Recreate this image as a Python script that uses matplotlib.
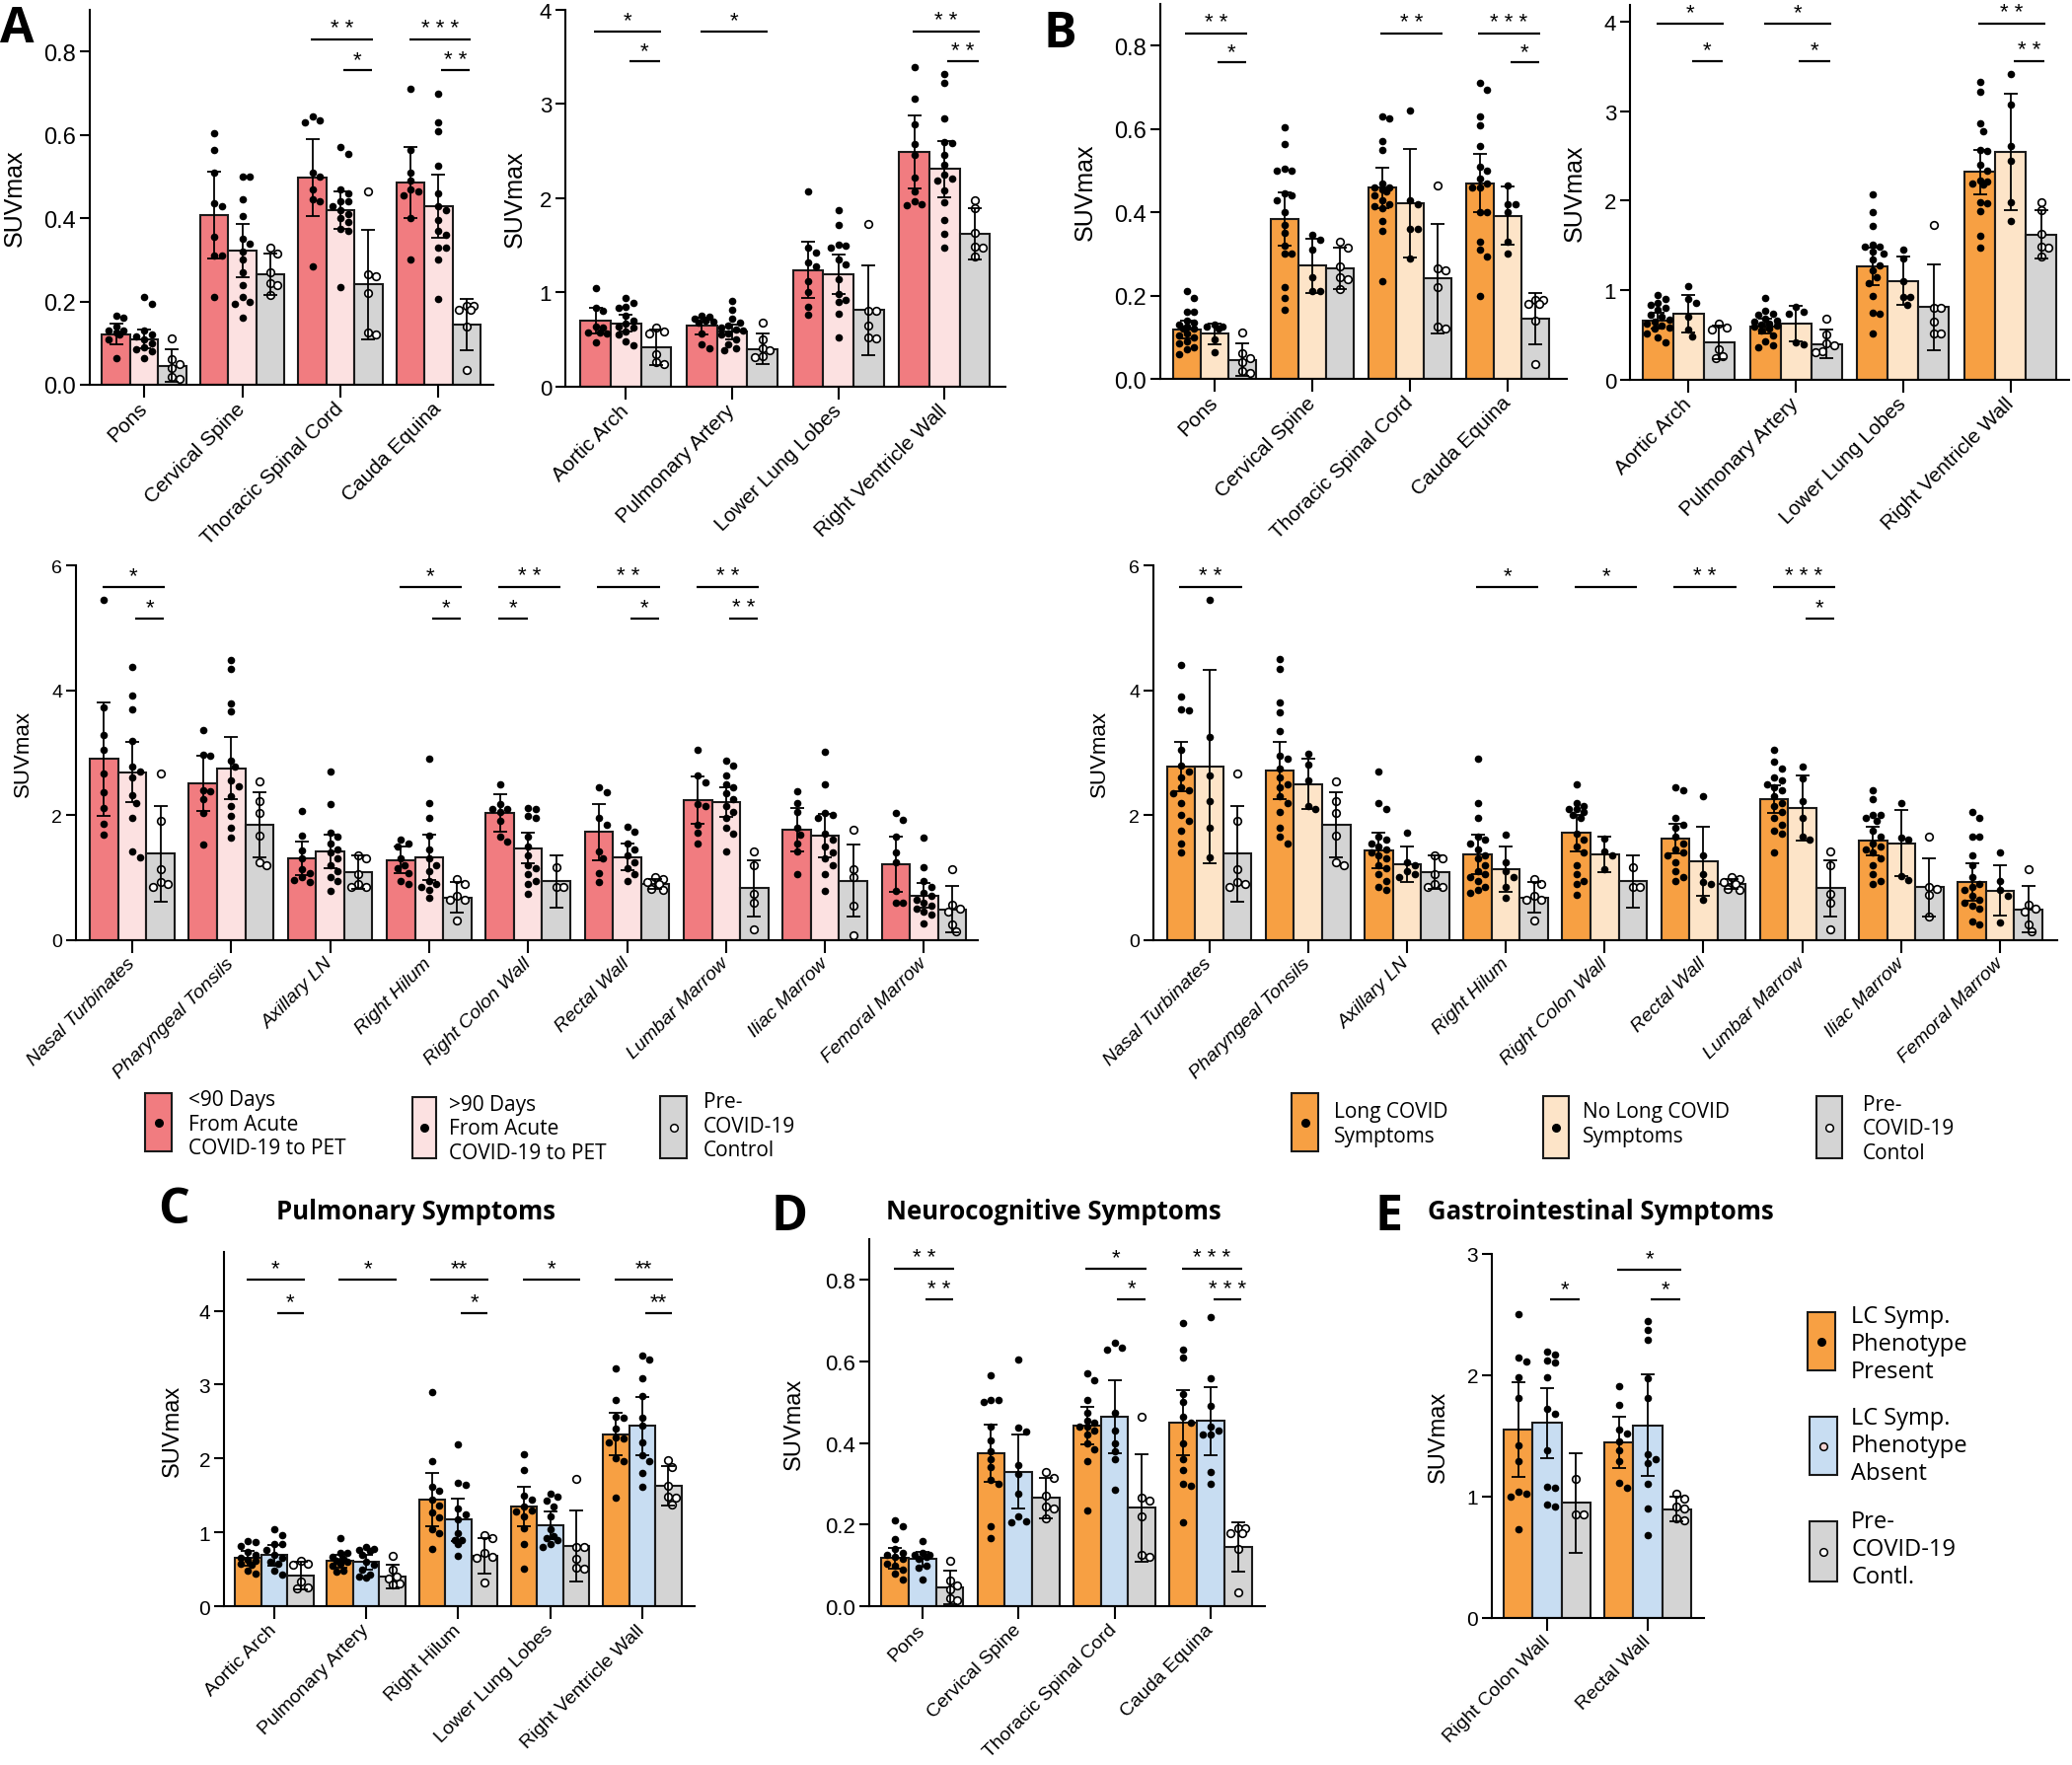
import numpy as np
import matplotlib
matplotlib.use("Agg")
import matplotlib.pyplot as plt
from matplotlib.patches import Rectangle

plt.rcParams['font.family'] = ['Liberation Sans', 'DejaVu Sans']

# ---------------- data ----------------
SPINE_CATS = ["Pons", "Cervical Spine", "Thoracic Spinal Cord", "Cauda Equina"]
VASC_CATS = ["Aortic Arch", "Pulmonary Artery", "Lower Lung Lobes", "Right Ventricle Wall"]
BODY_CATS = ["Nasal Turbinates", "Pharyngeal Tonsils", "Axillary LN", "Right Hilum",
             "Right Colon Wall", "Rectal Wall", "Lumbar Marrow", "Iliac Marrow", "Femoral Marrow"]
PULM_CATS = ["Aortic Arch", "Pulmonary Artery", "Right Hilum", "Lower Lung Lobes", "Right Ventricle Wall"]
GI_CATS = ["Right Colon Wall", "Rectal Wall"]

# panel A, spine (rows: <90 days, >90 days, control)
A1_MEAN = [[0.122, 0.408, 0.498, 0.486], [0.110, 0.322, 0.419, 0.429], [0.046, 0.265, 0.241, 0.145]]
A1_SD = [[0.024, 0.104, 0.093, 0.085], [0.023, 0.064, 0.045, 0.075], [0.040, 0.050, 0.132, 0.061]]
A1_PTS = [
    [[0.165, 0.16, 0.14, 0.13, 0.13, 0.125, 0.12, 0.11, 0.065],
     [0.21, 0.195, 0.13, 0.12, 0.115, 0.11, 0.10, 0.09, 0.085, 0.08, 0.065],
     [0.112, 0.062, 0.05, 0.04, 0.02, 0.015]],
    [[0.605, 0.565, 0.51, 0.435, 0.43, 0.355, 0.31, 0.31, 0.21],
     [0.50, 0.50, 0.445, 0.405, 0.35, 0.34, 0.32, 0.30, 0.27, 0.24, 0.21, 0.20, 0.195, 0.16],
     [0.33, 0.315, 0.27, 0.245, 0.24, 0.215]],
    [[0.645, 0.635, 0.63, 0.51, 0.50, 0.47, 0.445, 0.44, 0.285],
     [0.57, 0.555, 0.47, 0.46, 0.44, 0.44, 0.43, 0.42, 0.41, 0.40, 0.39, 0.375, 0.37, 0.235],
     [0.465, 0.265, 0.26, 0.22, 0.125, 0.12]],
    [[0.71, 0.565, 0.51, 0.49, 0.47, 0.465, 0.455, 0.40, 0.30],
     [0.70, 0.63, 0.61, 0.525, 0.46, 0.43, 0.42, 0.395, 0.37, 0.36, 0.33, 0.33, 0.30, 0.205],
     [0.19, 0.19, 0.18, 0.18, 0.14, 0.035]],
]
A1_SIG = [(2, 'long', '* *'), (2, 's23', '*'), (3, 'long', '* * *'), (3, 's23', '* *')]

# panel A, vascular
A2_MEAN = [[0.697, 0.643, 1.235, 2.49], [0.668, 0.578, 1.19, 2.31], [0.415, 0.397, 0.81, 1.62]]
A2_SD = [[0.14, 0.09, 0.30, 0.39], [0.09, 0.08, 0.21, 0.30], [0.19, 0.16, 0.48, 0.27]]
A2_PTS = [
    [[1.04, 0.83, 0.80, 0.63, 0.62, 0.57, 0.56, 0.57, 0.47],
     [0.94, 0.89, 0.85, 0.83, 0.75, 0.70, 0.67, 0.64, 0.62, 0.58, 0.55, 0.48, 0.44],
     [0.62, 0.58, 0.56, 0.34, 0.26, 0.24]],
    [[0.75, 0.74, 0.72, 0.70, 0.69, 0.68, 0.56, 0.45, 0.40],
     [0.91, 0.81, 0.72, 0.68, 0.65, 0.62, 0.60, 0.59, 0.56, 0.55, 0.50, 0.45, 0.40, 0.38],
     [0.68, 0.50, 0.40, 0.38, 0.32, 0.31]],
    [[2.07, 1.47, 1.42, 1.32, 1.27, 1.12, 1.00, 0.85, 0.76],
     [1.87, 1.71, 1.51, 1.50, 1.47, 1.35, 1.30, 1.14, 0.98, 0.92, 0.90, 0.77, 0.52],
     [1.73, 0.80, 0.80, 0.65, 0.52, 0.51]],
    [[3.39, 3.06, 2.78, 2.57, 2.46, 2.22, 2.07, 1.97, 1.93, 1.92],
     [3.32, 3.22, 2.85, 2.60, 2.58, 2.46, 2.35, 2.25, 2.19, 2.21, 2.08, 1.96, 1.77, 1.62, 1.47],
     [1.98, 1.89, 1.63, 1.47, 1.48, 1.38]],
]
A2_SIG = [(0, 'long', '*'), (0, 's23', '*'), (1, 'long', '*'), (3, 'long', '* *'), (3, 's23', '* *')]

# panel B, spine (rows: long covid, no long covid, control)
B1_MEAN = [[0.119, 0.384, 0.459, 0.47], [0.108, 0.272, 0.421, 0.392], [0.046, 0.265, 0.241, 0.145]]
B1_SD = [[0.021, 0.063, 0.048, 0.07], [0.025, 0.065, 0.13, 0.07], [0.04, 0.05, 0.132, 0.061]]
B1_PTS = [
    [[0.21, 0.195, 0.16, 0.16, 0.14, 0.135, 0.13, 0.125, 0.12, 0.12, 0.11, 0.105, 0.10, 0.09, 0.085, 0.075, 0.07, 0.06],
     [0.13, 0.125, 0.125, 0.12, 0.095, 0.065],
     [0.112, 0.062, 0.05, 0.04, 0.02, 0.015]],
    [[0.605, 0.565, 0.505, 0.50, 0.50, 0.445, 0.44, 0.43, 0.40, 0.37, 0.35, 0.32, 0.30, 0.30, 0.22, 0.195, 0.165],
     [0.345, 0.335, 0.31, 0.245, 0.21, 0.21],
     [0.33, 0.315, 0.27, 0.245, 0.24, 0.215]],
    [[0.63, 0.625, 0.57, 0.55, 0.47, 0.46, 0.46, 0.455, 0.45, 0.44, 0.43, 0.42, 0.415, 0.41, 0.38, 0.355, 0.235],
     [0.645, 0.43, 0.42, 0.36, 0.36, 0.29],
     [0.465, 0.265, 0.26, 0.22, 0.125, 0.12]],
    [[0.71, 0.695, 0.63, 0.61, 0.56, 0.51, 0.50, 0.48, 0.47, 0.46, 0.46, 0.40, 0.40, 0.33, 0.31, 0.295, 0.20],
     [0.465, 0.42, 0.42, 0.40, 0.33, 0.30],
     [0.19, 0.19, 0.18, 0.18, 0.14, 0.035]],
]
B1_SIG = [(0, 'long', '* *'), (0, 's23', '*'), (2, 'long', '* *'), (3, 'long', '* * *'), (3, 's23', '*')]

# panel B, vascular
B2_MEAN = [[0.66, 0.596, 1.267, 2.32], [0.732, 0.626, 1.101, 2.54], [0.415, 0.397, 0.81, 1.62]]
B2_SD = [[0.09, 0.08, 0.21, 0.25], [0.21, 0.20, 0.27, 0.65], [0.19, 0.16, 0.48, 0.27]]
B2_PTS = [
    [[0.95, 0.90, 0.86, 0.83, 0.80, 0.78, 0.72, 0.70, 0.67, 0.65, 0.62, 0.60, 0.58, 0.57, 0.52, 0.47, 0.42],
     [1.04, 0.90, 0.86, 0.70, 0.56, 0.48],
     [0.62, 0.58, 0.56, 0.34, 0.26, 0.24]],
    [[0.91, 0.77, 0.74, 0.72, 0.68, 0.66, 0.65, 0.63, 0.61, 0.60, 0.59, 0.57, 0.55, 0.49, 0.43, 0.38, 0.36],
     [0.81, 0.76, 0.74, 0.42, 0.39],
     [0.68, 0.50, 0.40, 0.38, 0.32, 0.31]],
    [[2.07, 1.87, 1.72, 1.51, 1.49, 1.48, 1.43, 1.41, 1.34, 1.28, 1.22, 1.14, 1.08, 0.93, 0.75, 0.74, 0.52],
     [1.45, 1.35, 1.10, 0.92, 0.92, 0.84],
     [1.73, 0.80, 0.80, 0.65, 0.52, 0.51]],
    [[3.33, 3.22, 2.86, 2.78, 2.57, 2.56, 2.40, 2.33, 2.22, 2.21, 2.19, 2.18, 1.98, 1.97, 1.88, 1.61, 1.47],
     [3.41, 3.07, 2.61, 2.45, 1.98, 1.77],
     [1.98, 1.89, 1.63, 1.47, 1.48, 1.38]],
]
B2_SIG = [(0, 'long', '*'), (0, 's23', '*'), (1, 'long', '*'), (1, 's23', '*'), (3, 'long', '* *'), (3, 's23', '* *')]

# panel A, body regions
MA_MEAN = [[2.90, 2.51, 1.31, 1.28, 2.03, 1.73, 2.24, 1.76, 1.21],
           [2.69, 2.75, 1.42, 1.32, 1.47, 1.33, 2.21, 1.67, 0.71],
           [1.38, 1.85, 1.08, 0.68, 0.94, 0.89, 0.83, 0.95, 0.49]]
MA_SD = [[0.91, 0.44, 0.27, 0.21, 0.30, 0.45, 0.38, 0.35, 0.44],
         [0.48, 0.50, 0.27, 0.36, 0.25, 0.21, 0.24, 0.35, 0.20],
         [0.77, 0.52, 0.27, 0.25, 0.42, 0.08, 0.45, 0.58, 0.37]]
MA_PTS = [
    [[5.45, 3.72, 3.28, 3.05, 2.66, 2.36, 2.12, 1.86, 1.69],
     [4.38, 3.92, 3.70, 3.19, 2.77, 2.70, 2.60, 2.32, 2.20, 1.95, 1.41, 1.32],
     [2.66, 1.91, 1.13, 0.93, 0.90, 0.85]],
    [[3.36, 2.97, 2.95, 2.40, 2.38, 2.25, 2.03, 1.53],
     [4.49, 4.35, 3.79, 3.66, 2.88, 2.77, 2.55, 2.46, 2.30, 2.15, 1.98, 1.80, 1.64],
     [2.54, 2.23, 2.03, 1.67, 1.25, 1.20]],
    [[2.06, 1.67, 1.44, 1.30, 1.13, 1.07, 1.00, 0.96, 0.93],
     [2.70, 2.18, 1.71, 1.65, 1.55, 1.45, 1.40, 1.30, 1.20, 1.10, 1.00, 0.95, 0.79],
     [1.35, 1.30, 1.05, 0.90, 0.85, 0.85]],
    [[1.61, 1.55, 1.50, 1.30, 1.19, 1.15, 1.07, 0.95, 0.90],
     [2.90, 2.19, 1.95, 1.67, 1.45, 1.30, 1.20, 1.10, 0.95, 0.90, 0.85, 0.80, 0.67],
     [0.97, 0.90, 0.70, 0.65, 0.65, 0.31]],
    [[2.50, 2.18, 2.10, 2.09, 2.05, 1.90, 1.65, 1.58],
     [2.12, 2.10, 1.98, 1.95, 1.65, 1.50, 1.35, 1.20, 1.15, 1.05, 0.95, 0.90, 0.73],
     [1.16, 0.85, 0.85]],
    [[2.45, 2.37, 1.95, 1.85, 1.42, 1.30, 1.07, 0.93],
     [1.82, 1.74, 1.55, 1.45, 1.35, 1.25, 1.15, 1.05, 0.95],
     [1.00, 0.98, 0.92, 0.90, 0.82, 0.80]],
    [[3.05, 2.63, 2.53, 2.18, 2.15, 1.85, 1.71, 1.55],
     [2.88, 2.79, 2.63, 2.50, 2.45, 2.35, 2.25, 2.15, 2.05, 1.95, 1.80, 1.70, 1.41],
     [1.41, 1.20, 0.73, 0.60, 0.17]],
    [[2.38, 2.20, 2.05, 1.80, 1.69, 1.55, 1.42, 1.06],
     [3.02, 2.50, 2.03, 2.00, 1.95, 1.70, 1.60, 1.50, 1.40, 1.30, 1.20, 1.05, 0.79],
     [1.76, 1.13, 1.00, 0.55, 0.08]],
    [[2.03, 1.93, 1.65, 1.40, 1.25, 0.79, 0.60, 0.59],
     [1.64, 1.16, 0.95, 0.85, 0.75, 0.70, 0.65, 0.60, 0.55, 0.50, 0.45, 0.40, 0.27],
     [1.13, 0.56, 0.50, 0.45, 0.25, 0.14]],
]
MA_SIG = [(0, 'long', '*'), (0, 's23', '*'), (3, 'long', '*'), (3, 's23', '*'),
          (4, 'long', '* *'), (4, 's12', '*'), (5, 'long', '* *'), (5, 's23', '*'),
          (6, 'long', '* *'), (6, 's23', '* *')]

# panel B, body regions
MB_MEAN = [[2.78, 2.71, 1.43, 1.37, 1.71, 1.62, 2.26, 1.59, 0.92],
           [2.78, 2.50, 1.21, 1.13, 1.37, 1.26, 2.11, 1.55, 0.79],
           [1.38, 1.85, 1.08, 0.68, 0.94, 0.89, 0.83, 0.84, 0.49]]
MB_SD = [[0.40, 0.46, 0.28, 0.32, 0.29, 0.24, 0.22, 0.23, 0.30],
         [1.55, 0.40, 0.28, 0.36, 0.28, 0.55, 0.52, 0.53, 0.40],
         [0.77, 0.52, 0.27, 0.25, 0.42, 0.08, 0.45, 0.46, 0.37]]
MB_PTS = [
    [[4.40, 3.90, 3.70, 3.68, 3.05, 2.80, 2.70, 2.60, 2.45, 2.40, 2.35, 2.20, 2.00, 1.90, 1.75, 1.55, 1.40],
     [5.45, 3.26, 2.64, 2.22, 1.80, 1.33],
     [2.66, 1.91, 1.13, 0.93, 0.90, 0.85]],
    [[4.50, 4.35, 3.80, 3.65, 3.35, 2.95, 2.90, 2.75, 2.60, 2.50, 2.45, 2.30, 2.20, 2.05, 1.80, 1.65, 1.55],
     [2.99, 2.81, 2.55, 2.14, 2.09],
     [2.54, 2.23, 2.03, 1.67, 1.25, 1.20]],
    [[2.70, 2.20, 2.10, 1.65, 1.60, 1.55, 1.50, 1.45, 1.40, 1.35, 1.30, 1.20, 1.15, 1.05, 0.95, 0.85, 0.80],
     [1.71, 1.25, 1.20, 1.10, 1.05, 1.00],
     [1.35, 1.30, 1.05, 0.90, 0.85, 0.85]],
    [[2.90, 2.20, 1.95, 1.65, 1.60, 1.55, 1.45, 1.35, 1.30, 1.20, 1.10, 1.05, 1.00, 0.95, 0.85, 0.80, 0.75],
     [1.69, 1.25, 1.10, 1.00, 0.85, 0.68],
     [0.97, 0.90, 0.70, 0.65, 0.65, 0.31]],
    [[2.50, 2.20, 2.15, 2.10, 2.10, 2.05, 2.00, 1.95, 1.70, 1.60, 1.50, 1.40, 1.20, 1.05, 0.95, 0.90, 0.72],
     [1.62, 1.41, 1.35, 1.13],
     [1.16, 0.85, 0.85]],
    [[2.45, 2.40, 1.95, 1.85, 1.80, 1.65, 1.55, 1.45, 1.40, 1.35, 1.25, 1.10, 1.00, 0.95],
     [2.30, 1.36, 1.06, 0.93, 0.90, 0.65],
     [1.00, 0.98, 0.92, 0.90, 0.82, 0.80]],
    [[3.05, 2.85, 2.75, 2.60, 2.55, 2.50, 2.45, 2.40, 2.30, 2.20, 2.15, 2.05, 1.95, 1.85, 1.75, 1.70, 1.40],
     [2.77, 2.59, 2.23, 1.95, 1.65, 1.61],
     [1.41, 1.20, 0.73, 0.60, 0.17]],
    [[2.40, 2.25, 2.00, 2.00, 1.95, 1.90, 1.75, 1.65, 1.55, 1.50, 1.45, 1.40, 1.30, 1.20, 1.05, 0.95, 0.90],
     [2.19, 1.64, 1.60, 1.02, 0.96],
     [1.66, 0.85, 0.82, 0.72, 0.37]],
    [[2.05, 1.95, 1.65, 1.65, 1.35, 1.20, 1.00, 0.90, 0.85, 0.80, 0.70, 0.65, 0.60, 0.55, 0.50, 0.30, 0.25],
     [1.40, 0.95, 0.80, 0.70, 0.28],
     [1.13, 0.56, 0.50, 0.45, 0.25, 0.14]],
]
MB_SIG = [(0, 'long', '* *'), (3, 'long', '*'), (4, 'long', '*'), (5, 'long', '* *'),
          (6, 'long', '* * *'), (6, 's23', '*')]

# panel C (rows: phenotype present, absent, control)
C_MEAN = [[0.654, 0.613, 1.45, 1.35, 2.33], [0.695, 0.60, 1.175, 1.10, 2.44], [0.42, 0.40, 0.69, 0.82, 1.63]]
C_SD = [[0.10, 0.09, 0.36, 0.27, 0.29], [0.14, 0.10, 0.29, 0.19, 0.39], [0.19, 0.16, 0.24, 0.48, 0.27]]
C_PTS = [
    [[0.88, 0.87, 0.82, 0.74, 0.70, 0.66, 0.63, 0.62, 0.58, 0.57, 0.48, 0.45],
     [1.04, 0.96, 0.84, 0.84, 0.76, 0.70, 0.66, 0.60, 0.58, 0.48, 0.43],
     [0.62, 0.58, 0.56, 0.34, 0.26, 0.24]],
    [[0.92, 0.73, 0.72, 0.67, 0.64, 0.62, 0.60, 0.58, 0.55, 0.49, 0.47],
     [0.80, 0.78, 0.76, 0.75, 0.70, 0.60, 0.57, 0.50, 0.43, 0.40, 0.39],
     [0.68, 0.50, 0.40, 0.38, 0.31, 0.30]],
    [[2.90, 1.97, 1.62, 1.56, 1.45, 1.37, 1.27, 1.20, 1.05, 0.99, 0.78],
     [2.19, 1.67, 1.64, 1.32, 1.25, 1.18, 0.99, 0.90, 0.90, 0.85, 0.68],
     [0.97, 0.93, 0.72, 0.67, 0.66, 0.33]],
    [[2.06, 1.85, 1.50, 1.45, 1.35, 1.30, 1.28, 1.22, 1.06, 0.85, 0.51],
     [1.52, 1.48, 1.43, 1.35, 1.22, 1.05, 0.95, 0.92, 0.90, 0.85, 0.80],
     [1.73, 0.80, 0.80, 0.65, 0.52, 0.51]],
    [[3.22, 2.79, 2.57, 2.55, 2.40, 2.28, 2.27, 2.22, 2.00, 1.97, 1.47],
     [3.40, 3.34, 3.08, 2.85, 2.55, 2.44, 2.22, 2.05, 1.97, 1.80, 1.62],
     [1.98, 1.89, 1.63, 1.48, 1.47, 1.38]],
]
C_SIG = [(0, 'long', '*'), (0, 's23', '*'), (1, 'long', '*'), (2, 'long', '**'), (2, 's23', '*'),
         (3, 'long', '*'), (4, 'long', '**'), (4, 's23', '**')]

# panel D
D_MEAN = [[0.118, 0.374, 0.442, 0.451], [0.115, 0.33, 0.465, 0.454], [0.046, 0.265, 0.241, 0.145]]
D_SD = [[0.025, 0.07, 0.046, 0.08], [0.019, 0.09, 0.09, 0.083], [0.04, 0.05, 0.132, 0.061]]
D_PTS = [
    [[0.21, 0.195, 0.165, 0.14, 0.13, 0.125, 0.12, 0.115, 0.105, 0.10, 0.09, 0.08, 0.065],
     [0.16, 0.13, 0.125, 0.125, 0.12, 0.115, 0.10, 0.095, 0.065],
     [0.112, 0.062, 0.05, 0.04, 0.02, 0.015]],
    [[0.565, 0.506, 0.505, 0.50, 0.44, 0.406, 0.38, 0.36, 0.34, 0.31, 0.30, 0.196, 0.166],
     [0.606, 0.439, 0.428, 0.346, 0.324, 0.275, 0.219, 0.208, 0.205],
     [0.33, 0.315, 0.27, 0.245, 0.24, 0.215]],
    [[0.57, 0.555, 0.505, 0.475, 0.455, 0.45, 0.44, 0.44, 0.43, 0.42, 0.40, 0.385, 0.355, 0.235],
     [0.645, 0.63, 0.635, 0.475, 0.43, 0.40, 0.38, 0.36, 0.285],
     [0.465, 0.265, 0.26, 0.22, 0.125, 0.12]],
    [[0.695, 0.63, 0.61, 0.52, 0.50, 0.465, 0.45, 0.40, 0.36, 0.335, 0.30, 0.295, 0.205],
     [0.71, 0.56, 0.49, 0.44, 0.43, 0.42, 0.42, 0.33, 0.30],
     [0.19, 0.19, 0.18, 0.18, 0.14, 0.035]],
]
D_SIG = [(0, 'long', '* *'), (0, 's23', '* *'), (2, 'long', '*'), (2, 's23', '*'),
         (3, 'long', '* * *'), (3, 's23', '* * *')]

# panel E
E_MEAN = [[1.548, 1.445], [1.604, 1.585], [0.948, 0.895]]
E_SD = [[0.39, 0.21], [0.29, 0.42], [0.41, 0.10]]
E_PTS = [
    [[2.50, 2.14, 2.11, 1.98, 1.81, 1.42, 1.29, 1.04, 1.02, 1.00, 0.73],
     [2.19, 2.17, 2.12, 2.10, 1.98, 1.72, 1.68, 1.38, 1.08, 1.07, 0.93, 0.92],
     [1.14, 0.85, 0.85]],
    [[1.91, 1.75, 1.55, 1.52, 1.45, 1.38, 1.29, 1.11, 1.07],
     [2.44, 2.37, 2.29, 1.97, 1.81, 1.35, 1.31, 1.27, 1.10, 0.90, 0.68],
     [1.02, 0.98, 0.92, 0.90, 0.82, 0.80]],
]
E_SIG = [(0, 's23', '*'), (1, 'long', '*'), (1, 's23', '*')]

LEG_A = ["<90 Days\nFrom Acute\nCOVID-19 to PET", ">90 Days\nFrom Acute\nCOVID-19 to PET", "Pre-\nCOVID-19\nControl"]
LEG_B = ["Long COVID\nSymptoms", "No Long COVID\nSymptoms", "Pre-\nCOVID-19\nContol"]
LEG_E = ["LC Symp.\nPhenotype\nPresent", "LC Symp.\nPhenotype\nAbsent", "Pre-\nCOVID-19\nContl."]

# ---------------- style ----------------
W, H = 2100, 1790
RED, PINK, GRAY = '#F17C80', '#FCE1E1', '#D4D4D4'
ORANGE, PEACH, BLUE = '#F7A043', '#FDE4C8', '#C8DDF2'
EDGE = '#1a1a1a'
BW = 0.285
OFFS = [-BW, 0.0, BW]
SPANS = {'long': (-0.30, 0.33), 's23': (0.03, 0.32), 's12': (-0.30, 0.0)}
LEGFONT = ['Open Sans', 'DejaVu Sans']

fig = plt.figure(figsize=(W / 100, H / 100), dpi=100)


def swarm(ax, xc, vals, dot_px=7.6):
    vals = np.asarray(vals, float)
    disp = ax.transData.transform(np.column_stack([np.full(len(vals), xc), vals]))
    cx = disp[0, 0]
    ys = disp[:, 1]
    unit = ax.transData.transform([(1, 0)])[0, 0] - ax.transData.transform([(0, 0)])[0, 0]
    half = BW / 2 * unit - 3.5
    step = dot_px / 2.0
    cands = [0.0]
    for j in range(1, 12):
        cands += [j * step, -j * step]
    cands = [c for c in cands if abs(c) <= half]
    placed = []
    offs = np.zeros(len(vals))
    for i in np.argsort(-vals, kind='stable'):
        best, best_d = 0.0, -1.0
        for c in cands:
            d = min([np.hypot(c - px, ys[i] - py) for px, py in placed], default=np.inf)
            if d >= dot_px:
                best = c
                break
            if d > best_d:
                best, best_d = c, d
        placed.append((best, ys[i]))
        offs[i] = best
    return ax.transData.inverted().transform(np.column_stack([cx + offs, ys]))[:, 0]


def draw_panel(box, xlim, ylim, yticks, yfmt, cats, means, sds, pts, colors, sig, levels,
               fs_tick, fs_cat, cat_style='normal'):
    left, right, top, bottom = box
    ax = fig.add_axes([left / W, 1 - bottom / H, (right - left) / W, (bottom - top) / H])
    ax.set_xlim(*xlim)
    ax.set_ylim(*ylim)
    x = np.arange(len(cats))
    for s in range(3):
        ax.bar(x + OFFS[s], means[s], width=BW, color=colors[s], edgecolor=EDGE, linewidth=1.5, zorder=2)
    for i in range(len(cats)):
        for s in range(3):
            xs = swarm(ax, i + OFFS[s], pts[i][s])
            if s < 2:
                ax.scatter(xs, pts[i][s], s=30, c='black', linewidths=0, zorder=3, clip_on=False)
            else:
                ax.scatter(xs, pts[i][s], s=30, facecolors='white', edgecolors='black',
                           linewidths=1.2, zorder=3, clip_on=False)
    for s in range(3):
        ax.errorbar(x + OFFS[s], means[s], yerr=sds[s], fmt='none', ecolor='black',
                    elinewidth=1.3, capsize=5, capthick=1.3, zorder=4)
    for i, kind, stars in sig:
        x0, x1 = SPANS[kind]
        yv = levels[0] if kind == 'long' else levels[1]
        ax.plot([i + x0, i + x1], [yv, yv], color='black', lw=1.6, clip_on=False, solid_capstyle='butt')
        ax.annotate(stars, xy=(i + (x0 + x1) / 2, yv), xytext=(0, 4), textcoords='offset points',
                    ha='center', va='baseline', fontsize=16, annotation_clip=False)
    ax.spines[['top', 'right']].set_visible(False)
    ax.spines[['left', 'bottom']].set_linewidth(1.5)
    ax.set_yticks(yticks)
    ax.set_yticklabels([yfmt.format(v) for v in yticks])
    ax.set_xticks(x)
    ax.set_xticklabels(cats, rotation=45, ha='right', va='center', rotation_mode='anchor',
                       fontsize=fs_cat, fontstyle=cat_style)
    ax.tick_params(axis='y', length=7, width=1.5, labelsize=fs_tick, pad=3)
    ax.tick_params(axis='x', length=9, width=1.5, pad=6)
    return ax


COL_A = (RED, PINK, GRAY)
COL_B = (ORANGE, PEACH, GRAY)
COL_C = (ORANGE, BLUE, GRAY)

draw_panel((90.6, 500, 11.2, 391), (-0.557, 3.558), (0, 0.9), [0, 0.2, 0.4, 0.6, 0.8], '{:.1f}',
           SPINE_CATS, A1_MEAN, A1_SD, A1_PTS, COL_A, A1_SIG, (0.83, 0.755), 17, 15)
draw_panel((573, 1019, 11, 392.6), (-0.571, 3.574), (0, 4), [0, 1, 2, 3, 4], '{:.0f}',
           VASC_CATS, A2_MEAN, A2_SD, A2_PTS, COL_A, A2_SIG, (3.77, 3.45), 16, 15)
draw_panel((1176, 1587.5, 5.2, 385), (-0.556, 3.601), (0, 0.9), [0, 0.2, 0.4, 0.6, 0.8], '{:.1f}',
           SPINE_CATS, B1_MEAN, B1_SD, B1_PTS, COL_B, B1_SIG, (0.83, 0.76), 17, 15)
draw_panel((1652, 2097, 5.7, 385.7), (-0.547, 3.547), (0, 4.19), [0, 1, 2, 3, 4], '{:.0f}',
           VASC_CATS, B2_MEAN, B2_SD, B2_PTS, COL_B, B2_SIG, (3.98, 3.56), 16, 15)
draw_panel((77, 991, 574.3, 953.6), (-0.568, 8.544), (0, 6), [0, 2, 4, 6], '{:.0f}',
           BODY_CATS, MA_MEAN, MA_SD, MA_PTS, COL_A, MA_SIG, (5.66, 5.15), 14, 14, 'italic')
draw_panel((1169, 2085, 574.3, 953.6), (-0.564, 8.578), (0, 6), [0, 2, 4, 6], '{:.0f}',
           BODY_CATS, MB_MEAN, MB_SD, MB_PTS, COL_B, MB_SIG, (5.66, 5.15), 14, 14, 'italic')
draw_panel((227, 704, 1269.6, 1629.3), (-0.547, 4.571), (0, 4.8), [0, 1, 2, 3, 4], '{:.0f}',
           PULM_CATS, C_MEAN, C_SD, C_PTS, COL_C, C_SIG, (4.42, 3.97), 15, 14)
draw_panel((880.6, 1282, 1257, 1629), (-0.556, 3.565), (0, 0.9), [0, 0.2, 0.4, 0.6, 0.8], '{:.1f}',
           SPINE_CATS, D_MEAN, D_SD, D_PTS, COL_C, D_SIG, (0.828, 0.752), 16, 14)
draw_panel((1512, 1727, 1271.5, 1640.8), (-0.549, 1.559), (0, 3), [0, 1, 2, 3], '{:.0f}',
           GI_CATS, E_MEAN, E_SD, E_PTS, COL_C, E_SIG, (2.87, 2.62), 15, 14)

# ---------------- overlay: labels, titles, legends ----------------
ov = fig.add_axes([0, 0, 1, 1])
ov.set_xlim(0, W)
ov.set_ylim(H, 0)
ov.axis('off')

for xl, yl, fs in [(15, 201, 18), (522, 202, 18), (1100, 195, 18), (1596, 196, 18),
                   (23, 764, 16), (1114, 764, 16), (175, 1450, 17), (805, 1443, 17), (1458, 1456, 17)]:
    ov.text(xl, yl, 'SUVmax', rotation=90, ha='center', va='center', fontsize=fs)

for letter, lx, ly in [('A', 0, 43), ('B', 1058, 48), ('C', 160, 1240), ('D', 782, 1247), ('E', 1394, 1247)]:
    ov.text(lx, ly, letter, fontsize=36, fontweight='bold', family=LEGFONT, ha='left', va='baseline')

ov.text(421, 1236, 'Pulmonary Symptoms', fontsize=18.5, fontweight='bold', family=LEGFONT,
        ha='center', va='baseline')
ov.text(1068, 1236, 'Neurocognitive Symptoms', fontsize=18.5, fontweight='bold', family=LEGFONT,
        ha='center', va='baseline')
ov.text(1447, 1236, 'Gastrointestinal Symptoms', fontsize=18.5, fontweight='bold', family=LEGFONT,
        ha='left', va='baseline')


def legend_item(x0, y0, x1, y1, color, marker, label, tx, ty, fs):
    ov.add_patch(Rectangle((x0, y0), x1 - x0, y1 - y0, facecolor=color, edgecolor=EDGE, lw=1.5))
    cx, cy = (x0 + x1) / 2, (y0 + y1) / 2
    if marker == 'fill':
        ov.plot(cx, cy, 'o', ms=5.5, color='black')
    else:
        ov.plot(cx, cy, 'o', ms=5.5, mfc=marker, mec='black', mew=1.1)
    ov.text(tx, ty, label, fontsize=fs, family=LEGFONT, ha='left', va='center', linespacing=1.22)


legend_item(147, 1109, 174, 1168, RED, 'fill', LEG_A[0], 191, 1140, 15)
legend_item(418, 1113, 442, 1175, PINK, 'fill', LEG_A[1], 455, 1145, 15)
legend_item(669, 1112, 696, 1175, GRAY, 'white', LEG_A[2], 713, 1142, 15)
legend_item(1309, 1109, 1336, 1168, ORANGE, 'fill', LEG_B[0], 1352, 1140, 15)
legend_item(1564, 1112, 1590, 1175, PEACH, 'fill', LEG_B[1], 1604, 1140, 15)
legend_item(1841, 1112, 1867, 1175, GRAY, 'white', LEG_B[2], 1888, 1145, 15)
legend_item(1832, 1331, 1860, 1390, ORANGE, 'fill', LEG_E[0], 1876, 1363, 17)
legend_item(1834, 1437, 1862, 1496, BLUE, '#F6D5D5', LEG_E[1], 1876, 1466, 17)
legend_item(1834, 1543, 1862, 1604, GRAY, 'white', LEG_E[2], 1876, 1571, 17)

fig.savefig('out.png', dpi=100)
